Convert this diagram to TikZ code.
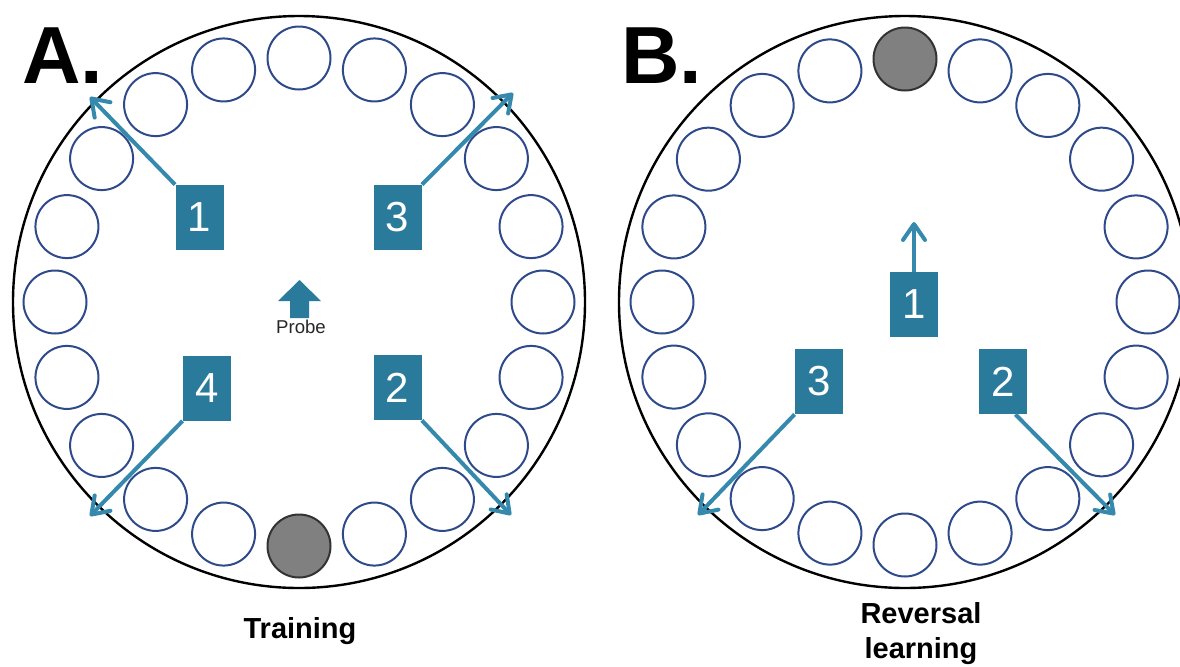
\documentclass[tikz,border=0pt]{standalone}
\usepackage{fontspec}
\setmainfont{Liberation Sans}
\usetikzlibrary{arrows.meta,calc}
\definecolor{holeblue}{HTML}{2E4A8A}
\definecolor{boxteal}{HTML}{2A7B9B}
\definecolor{arrowteal}{HTML}{3489AC}
\definecolor{platform}{HTML}{808080}
\begin{document}
\begin{tikzpicture}[x=0.5pt,y=-0.5pt,
  rim/.style={draw=black,line width=1.2pt},
  hole/.style={circle,draw=holeblue,line width=1pt,minimum size=31.5pt,inner sep=0pt},
  goal/.style={hole,draw=black!80,fill=platform},
  startbox/.style={fill=boxteal,minimum width=24pt,minimum height=32.5pt,inner sep=0pt,text=white,font=\fontsize{21}{21}\selectfont},
  swim/.style={draw=arrowteal,line width=2pt,-{Straight Barb[round,length=8pt,width=11pt]}},
  panel/.style={font=\fontsize{40.5}{40.5}\selectfont\bfseries,anchor=base west,inner sep=0pt},
  caption/.style={font=\fontsize{14.5}{17.5}\selectfont\bfseries,align=center,inner sep=0pt}]
\useasboundingbox (0,0) rectangle (1180,666);

% Koordinaten
\coordinate (poolA) at (299,302);
\coordinate (poolB) at (905,302);
\coordinate (tipAone) at (90,97);
\coordinate (tipAtwo) at (511,515);
\coordinate (tipAthree) at (513,93);
\coordinate (tipAfour) at (90,516);
\coordinate (tipBone) at (914,222);
\coordinate (tipBtwo) at (1115,515);
\coordinate (tipBthree) at (698,515);

% Becken
\draw[rim] (poolA) circle[radius=286];
\draw[rim] (poolB) circle[radius=286];
\foreach \k in {1,...,19}{
  \node[hole] (holeA\k) at ($(poolA)+(90+18*\k:244)$) {};
  \node[hole] (holeB\k) at ($(poolB)+(270+18*\k:243)$) {};
}
\node[goal] (goalA) at ($(poolA)+(90:244)$) {};
\node[goal] (goalB) at ($(poolB)+(270:243)$) {};

% Startboxen
\node[startbox] (startAone) at (199.5,217.5) {1};
\node[startbox] (startAtwo) at (397.5,387.5) {2};
\node[startbox] (startAthree) at (397.5,217.5) {3};
\node[startbox] (startAfour) at (207,388) {4};
\node[startbox] (startBone) at (914,304.5) {1};
\node[startbox] (startBtwo) at (1003,381.5) {2};
\node[startbox] (startBthree) at (819,381.5) {3};

% Pfeile
\draw[swim] (startAone.north west) -- (tipAone);
\draw[swim] (startAtwo.south east) -- (tipAtwo);
\draw[swim] (startAthree.north east) -- (tipAthree);
\draw[swim] (startAfour.south west) -- (tipAfour);
\draw[swim] (startBone.north) -- (tipBone);
\draw[swim] ([xshift=-6pt]startBtwo.south east) -- (tipBtwo);
\draw[swim] (startBthree.south west) -- (tipBthree);

% Probe
\fill[boxteal] (290,318) -- (290,301) -- (278,301) -- (299.5,280) -- (321,301) -- (309,301) -- (309,318) -- cycle;
\node[font=\fontsize{9.3}{9.3}\selectfont,text=black!85,inner sep=0pt] (probe) at (301,327) {Probe};

% Beschriftung
\node[panel] (labelA) at (22,83) {A.};
\node[panel] (labelB) at (621,83) {B.};
\node[caption,anchor=base] (training) at (300,638) {Training};
\node[caption,anchor=base] (reversal) at (921,658) {Reversal\\learning};
\end{tikzpicture}
\end{document}
